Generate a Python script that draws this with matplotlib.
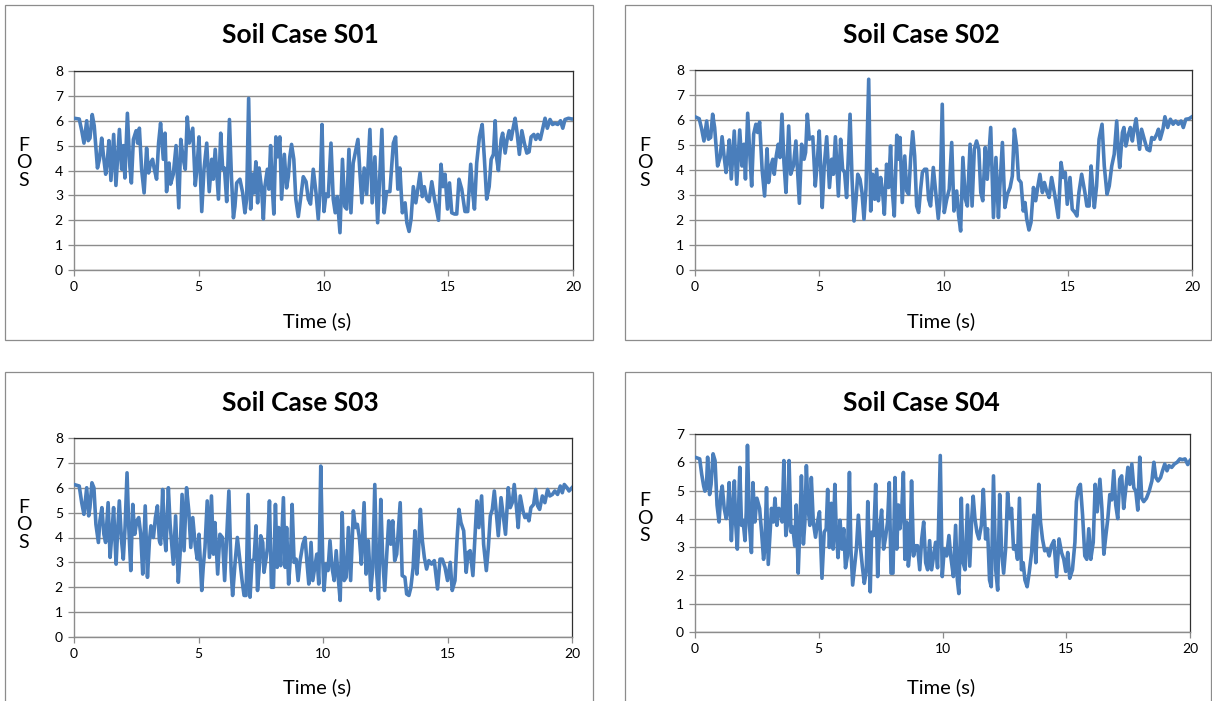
import matplotlib
matplotlib.use("Agg")
import matplotlib.pyplot as plt
from matplotlib.patches import Rectangle

W, H = 1212, 701
LINE = "#4a7ebb"
GRID = "#8c8c8c"
BOX = "#8c8c8c"

plt.rcParams["font.family"] = ["Lato", "DejaVu Sans"]

titles = ["Soil Case S01", "Soil Case S02", "Soil Case S03", "Soil Case S04"]
x_ticks = [0, 5, 10, 15, 20]
y_tops = [8, 8, 8, 7]

# values, FOS against time (s)
time_s01 = [
    0.0, 0.21, 0.31, 0.40, 0.51, 0.57, 0.64, 0.73, 0.81, 0.94,
    1.02, 1.11, 1.18, 1.27, 1.34, 1.40, 1.48, 1.59, 1.68, 1.82,
    1.91, 1.98, 2.04, 2.14, 2.24, 2.30, 2.38, 2.49, 2.55, 2.62,
    2.71, 2.81, 2.91, 2.99, 3.07, 3.15, 3.21, 3.31, 3.39, 3.47,
    3.58, 3.65, 3.71, 3.81, 3.87, 3.98, 4.09, 4.20, 4.28, 4.38,
    4.46, 4.54, 4.62, 4.76, 4.86, 4.93, 5.01, 5.12, 5.21, 5.32,
    5.42, 5.52, 5.58, 5.66, 5.79, 5.88, 5.96, 6.03, 6.12, 6.23,
    6.31, 6.39, 6.45, 6.52,
    6.65, 6.76, 6.85, 6.92, 7.00, 7.08, 7.16, 7.21, 7.29, 7.36,
    7.42, 7.52, 7.59, 7.65, 7.75, 7.81, 7.88, 7.95, 8.01, 8.09,
    8.16, 8.25, 8.32, 8.43, 8.52, 8.59, 8.65, 8.72, 8.81, 8.89,
    8.99, 9.08, 9.19, 9.30, 9.39, 9.48, 9.59, 9.70, 9.79, 9.86,
    9.94, 10.02, 10.10, 10.19, 10.30, 10.39, 10.47, 10.55, 10.66, 10.76,
    10.85, 10.93, 11.02, 11.10, 11.19, 11.27, 11.38, 11.46, 11.54, 11.63,
    11.73, 11.86, 11.95, 12.06, 12.17, 12.26, 12.34, 12.43, 12.53, 12.66,
    12.80, 12.89, 12.98, 13.06, 13.16,
    13.27, 13.34, 13.43, 13.51, 13.60, 13.70, 13.78, 13.87, 13.96, 14.04,
    14.14, 14.23, 14.34, 14.45, 14.61, 14.71, 14.79, 14.87, 14.97, 15.05,
    15.14, 15.25, 15.34, 15.43, 15.54, 15.67, 15.78, 15.90, 15.98, 16.05,
    16.14, 16.25, 16.36, 16.45, 16.54, 16.64, 16.72, 16.81, 16.88, 16.94,
    17.01, 17.12, 17.18, 17.28, 17.36, 17.44, 17.52, 17.60, 17.68, 17.76,
    17.85, 17.95, 18.05, 18.15, 18.24, 18.32, 18.43, 18.51, 18.59, 18.69,
    18.80, 18.88, 18.97, 19.08, 19.18, 19.28, 19.39, 19.50, 19.59, 19.68,
    19.82, 19.95, 20.0,
]
fos_s01 = [
    6.1, 6.07, 5.6, 5.1, 6.0, 5.2, 5.3, 6.25, 5.8, 4.1,
    4.45, 5.3, 4.6, 3.85, 4.45, 5.2, 3.6, 5.45, 3.4, 5.65,
    4.05, 5.0, 3.7, 6.3, 4.15, 3.5, 5.25, 5.6, 5.1, 5.7,
    4.05, 3.1, 4.9, 3.9, 4.3, 4.45, 4.1, 3.65, 5.1, 5.9,
    4.45, 5.5, 3.15, 4.3, 3.45, 3.85, 5.0, 2.5, 5.25, 4.45,
    4.05, 6.15, 5.1, 5.7, 3.4, 4.1, 5.35, 2.35, 4.05, 5.1,
    3.15, 4.45, 3.65, 4.85, 2.85, 5.5, 4.05, 4.1, 2.75, 6.05,
    3.75, 2.1, 2.55, 3.5,
    3.65, 3.1, 2.3, 2.85, 6.9, 2.45, 3.85, 3.1, 4.35, 2.7,
    4.1, 3.25, 2.05, 3.35, 4.05, 3.25, 5.0, 3.25, 2.25, 5.35,
    4.55, 5.35, 2.85, 4.65, 3.3, 3.75, 4.55, 5.05, 4.45, 2.85,
    2.15, 2.85, 3.75, 3.55, 2.85, 2.65, 4.05, 3.1, 2.05, 3.1,
    5.85, 2.35, 3.05, 2.95, 5.1, 2.85, 2.3, 2.95, 1.5, 4.45,
    2.55, 2.45, 4.85, 2.3, 4.3, 4.7, 5.25, 3.9, 2.7, 4.1,
    3.05, 5.65, 2.7, 4.55, 1.9, 3.9, 5.65, 2.3, 3.15, 3.15,
    5.1, 5.35, 3.25, 4.1, 2.3,
    2.7, 1.9, 1.55, 2.05, 3.35, 2.7, 3.25, 3.9, 2.95, 3.35,
    2.85, 2.75, 3.55, 2.85, 2.0, 4.25, 3.35, 3.85, 2.45, 3.5,
    2.3, 2.25, 2.25, 3.65, 3.25, 2.35, 2.35, 4.25, 3.1, 2.45,
    4.3, 5.35, 5.85, 4.45, 2.85, 3.35, 4.45, 4.65, 6.0, 4.5,
    4.0, 5.25, 5.5, 4.7, 5.25, 5.6, 5.25, 5.7, 6.1, 5.5,
    4.65, 5.6, 5.1, 4.7, 4.75, 5.35, 5.45, 5.25, 5.45, 5.25,
    5.75, 6.1, 5.7, 6.05, 5.85, 5.9, 5.85, 6.0, 5.7, 6.05,
    6.1, 6.07, 6.07,
]

time_s02 = [
    0.0, 0.17, 0.27, 0.36, 0.47, 0.54, 0.63, 0.71, 0.79, 0.91,
    1.01, 1.09, 1.17, 1.25, 1.31, 1.38, 1.46, 1.58, 1.68, 1.80,
    1.89, 1.97, 2.03, 2.12, 2.21, 2.28, 2.36, 2.45, 2.52, 2.60,
    2.70, 2.80, 2.90, 2.96, 3.04, 3.13, 3.19, 3.27, 3.35, 3.42,
    3.50, 3.58, 3.66, 3.77, 3.85, 3.96, 4.06, 4.20, 4.29, 4.39,
    4.45, 4.52, 4.60, 4.74, 4.84, 4.92, 5.00, 5.12, 5.20, 5.30,
    5.41, 5.50, 5.57, 5.65, 5.77, 5.86, 5.94, 6.02, 6.10, 6.24,
    6.32, 6.40, 6.48, 6.55,
    6.64, 6.72, 6.80, 6.88, 6.99, 7.07, 7.15, 7.23, 7.31, 7.38,
    7.47, 7.55, 7.62, 7.71, 7.79, 7.87, 7.94, 8.02, 8.12, 8.18,
    8.25, 8.34, 8.44, 8.52, 8.60, 8.68, 8.76, 8.84, 8.92, 9.00,
    9.08, 9.15, 9.24, 9.32, 9.40, 9.48, 9.59, 9.70, 9.79, 9.86,
    9.95, 10.03, 10.13, 10.23, 10.33, 10.42, 10.53, 10.61, 10.69, 10.78,
    10.88, 10.96, 11.07, 11.15, 11.24, 11.33, 11.42, 11.50, 11.58, 11.68,
    11.76, 11.90, 12.01, 12.11, 12.21, 12.27, 12.37, 12.47, 12.57, 12.68,
    12.77, 12.85, 12.94, 13.02, 13.12, 13.21,
    13.28, 13.35, 13.44, 13.52, 13.62, 13.71, 13.79, 13.88, 13.98, 14.06,
    14.15, 14.25, 14.35, 14.46, 14.62, 14.73, 14.82, 14.90, 14.98, 15.09,
    15.18, 15.29, 15.37, 15.45, 15.56, 15.69, 15.77, 15.86, 15.94, 16.02,
    16.07, 16.16, 16.26, 16.38, 16.47, 16.58, 16.67, 16.77, 16.87, 16.97,
    17.04, 17.09, 17.20, 17.26, 17.34, 17.44, 17.52, 17.60, 17.67, 17.75,
    17.81, 17.89, 17.97, 18.08, 18.19, 18.30, 18.38, 18.48, 18.58, 18.65,
    18.72, 18.83, 18.91, 19.02, 19.13, 19.24, 19.34, 19.45, 19.56, 19.65,
    19.75, 19.88, 20.0,
]
fos_s02 = [
    6.13, 6.05, 5.63, 5.16, 5.96, 5.23, 5.3, 6.23, 5.7, 4.16,
    4.5, 5.33, 4.56, 3.9, 4.43, 5.2, 3.64, 5.56, 3.43, 5.6,
    4.16, 5.03, 3.64, 6.27, 4.56, 3.36, 5.43, 5.83, 5.5, 5.92,
    4.03, 2.96, 4.85, 3.5, 4.1, 4.43, 3.83, 4.56, 5.03, 4.5,
    6.23, 4.3, 3.1, 5.76, 3.83, 4.16, 5.16, 2.67, 5.03, 4.43,
    4.7, 6.23, 5.23, 5.33, 3.36, 4.3, 5.56, 2.5, 4.16, 5.33,
    3.3, 4.43, 3.83, 5.33, 2.96, 5.23, 4.03, 3.9, 2.9, 6.23,
    3.64, 1.96, 2.83, 3.83,
    3.63, 3.1, 2.03, 3.23, 7.63, 2.36, 3.83, 2.83, 4.03, 2.77,
    3.7, 3.1, 2.23, 4.23, 3.3, 4.96, 3.16, 2.16, 5.39, 4.43,
    5.3, 2.7, 4.56, 3.16, 3.03, 4.5, 5.53, 4.56, 2.56, 2.3,
    3.23, 3.9, 4.03, 4.03, 2.83, 2.56, 4.1, 2.96, 2.06, 2.83,
    6.63, 2.3, 2.83, 3.23, 5.1, 2.36, 3.16, 2.16, 1.56, 4.5,
    2.83, 2.56, 5.03, 2.56, 4.83, 5.16, 4.83, 3.1, 2.77, 4.9,
    3.63, 5.7, 2.1, 4.5, 2.1, 3.36, 5.1, 2.5, 3.03, 3.3,
    3.76, 5.63, 4.96, 3.63, 3.5, 2.36,
    2.7, 2.03, 1.6, 1.9, 3.3, 2.77, 3.3, 3.83, 3.1, 3.5,
    3.16, 2.9, 3.7, 3.1, 2.1, 4.3, 3.7, 3.9, 2.63, 3.7,
    2.43, 2.3, 2.16, 3.1, 3.83, 3.1, 2.56, 2.56, 4.16, 3.1,
    2.5, 3.36, 5.23, 5.83, 4.16, 3.03, 3.36, 4.16, 4.63, 5.96,
    4.7, 4.1, 5.5, 5.7, 4.96, 5.43, 5.7, 5.16, 5.63, 6.05,
    5.5, 4.83, 5.63, 5.23, 4.83, 4.77, 5.3, 5.23, 5.43, 5.63,
    5.23, 5.63, 6.13, 5.7, 6.03, 5.83, 5.96, 5.83, 5.96, 5.7,
    6.03, 6.05, 6.13,
]

time_s03 = [
    0.0, 0.21, 0.31, 0.40, 0.51, 0.59, 0.64, 0.72, 0.80, 0.88,
    0.98, 1.04, 1.12, 1.20, 1.27, 1.37, 1.45, 1.51, 1.59, 1.69,
    1.74, 1.82, 1.91, 1.98, 2.05, 2.13, 2.20, 2.28, 2.36, 2.44,
    2.52, 2.60, 2.68, 2.76, 2.86, 2.95, 3.03, 3.09, 3.19, 3.27,
    3.35, 3.43, 3.48, 3.56, 3.63, 3.69, 3.79, 3.86, 3.92, 3.99,
    4.08, 4.19, 4.26, 4.34, 4.42, 4.52, 4.61, 4.69, 4.77, 4.87,
    4.95, 5.02, 5.13, 5.19, 5.26, 5.35, 5.44, 5.52, 5.60, 5.66,
    5.77, 5.86, 5.96, 6.05, 6.13, 6.22, 6.31, 6.37, 6.47, 6.56,
    6.67, 6.75, 6.83, 6.91, 6.99, 7.07, 7.15, 7.23, 7.31, 7.37,
    7.45, 7.50, 7.58, 7.63, 7.71, 7.77, 7.85, 7.93, 8.01, 8.09,
    8.16, 8.22, 8.30, 8.41, 8.48, 8.54, 8.62, 8.70, 8.76, 8.84,
    8.92, 9.00, 9.08, 9.19, 9.28, 9.35, 9.43, 9.52, 9.59, 9.67,
    9.75, 9.83, 9.91, 9.99, 10.04, 10.12, 10.20, 10.28, 10.36, 10.45,
    10.53, 10.61, 10.69, 10.77, 10.85, 10.93, 11.02, 11.11, 11.22, 11.30,
    11.38, 11.46, 11.54, 11.65, 11.73, 11.82, 11.92, 12.00, 12.08, 12.16,
    12.23, 12.32, 12.40, 12.48, 12.56, 12.64, 12.72, 12.80, 12.88, 12.96,
    13.10, 13.18,
    13.29, 13.36, 13.45, 13.53, 13.62, 13.69, 13.77, 13.83, 13.91, 13.99,
    14.07, 14.16, 14.25, 14.36, 14.47, 14.60, 14.70, 14.79, 14.90, 15.00,
    15.11, 15.19, 15.30, 15.38, 15.46, 15.54, 15.65, 15.75, 15.83, 15.91,
    16.02, 16.10, 16.18, 16.26, 16.37, 16.45, 16.56, 16.64, 16.72, 16.80,
    16.88, 16.96, 17.04, 17.15, 17.24, 17.33, 17.44, 17.52, 17.60, 17.68,
    17.77, 17.84, 17.92, 18.03, 18.11, 18.19, 18.27, 18.35, 18.46, 18.54,
    18.62, 18.70, 18.81, 18.91, 19.02, 19.11, 19.21, 19.31, 19.42, 19.53,
    19.61, 19.69, 19.80, 19.88, 20.0,
]
fos_s03 = [
    6.13, 6.07, 5.4, 4.93, 6.0, 4.87, 5.2, 6.2, 6.0, 4.53,
    3.8, 4.67, 5.2, 4.13, 3.8, 5.4, 3.2, 4.0, 5.2, 2.93,
    4.0, 5.47, 3.87, 3.13, 4.4, 6.6, 4.4, 2.67, 5.33, 4.13,
    4.67, 4.8, 4.13, 2.53, 5.27, 2.4, 3.87, 4.47, 4.0, 4.8,
    5.27, 3.87, 3.73, 5.93, 4.13, 3.47, 6.0, 4.53, 3.8, 2.93,
    4.87, 2.2, 3.33, 5.73, 3.47, 6.0, 5.07, 3.6, 4.8, 3.67,
    3.13, 4.13, 1.87, 2.8, 3.6, 5.47, 3.2, 5.67, 3.33, 4.6,
    2.53, 4.13, 4.0, 2.27, 4.0, 5.87, 2.67, 1.67, 3.0, 4.0,
    3.0, 2.27, 1.67, 1.67, 5.73, 1.6, 3.07, 3.13, 4.47, 1.87,
    2.93, 4.07, 3.8, 2.6, 3.13, 3.6, 5.47, 2.0, 2.0, 5.33,
    2.8, 4.4, 2.87, 5.6, 2.8, 4.4, 2.13, 3.33, 5.33, 3.0,
    3.13, 2.27, 3.07, 3.73, 4.0, 3.07, 2.13, 3.8, 2.27, 2.8,
    3.33, 2.13, 6.87, 3.07, 1.87, 2.93, 2.67, 3.87, 2.8, 2.27,
    3.47, 2.4, 1.47, 5.0, 2.27, 2.4, 4.4, 2.27, 5.07, 4.4,
    4.53, 4.0, 2.93, 5.4, 2.53, 3.87, 1.87, 2.8, 6.13, 2.53,
    1.53, 5.53, 3.07, 1.87, 3.33, 4.67, 3.73, 4.67, 3.07, 3.33,
    5.4, 2.47,
    2.4, 1.73, 1.67, 2.0, 2.8, 4.27, 2.53, 3.33, 5.13, 3.87,
    3.2, 2.73, 3.07, 2.93, 3.07, 1.93, 3.13, 3.13, 2.8, 2.27,
    3.0, 1.87, 2.27, 3.87, 5.13, 4.6, 4.27, 2.6, 3.4, 3.47,
    2.47, 4.0, 5.47, 4.4, 5.67, 3.73, 2.67, 3.6, 4.87, 5.13,
    5.87, 5.0, 4.07, 5.6, 4.87, 4.13, 6.0, 5.2, 5.4, 6.13,
    5.2, 4.4, 5.67, 5.07, 4.8, 4.93, 4.67, 5.2, 5.33, 5.93,
    5.27, 5.13, 5.67, 5.4, 5.93, 5.67, 5.73, 5.87, 5.73, 6.07,
    5.8, 6.13, 6.0, 5.87, 6.0,
]

time_s04 = [
    0.0, 0.19, 0.27, 0.35, 0.40, 0.46, 0.51, 0.59, 0.65, 0.73,
    0.81, 0.89, 0.97, 1.05, 1.10, 1.18, 1.26, 1.32, 1.38, 1.47,
    1.53, 1.59, 1.64, 1.71, 1.75, 1.81, 1.88, 1.94, 2.02, 2.07,
    2.12, 2.20, 2.28, 2.34, 2.42, 2.50, 2.61, 2.69, 2.77, 2.82,
    2.89, 2.96, 3.04, 3.09, 3.17, 3.23, 3.31, 3.39, 3.47, 3.52,
    3.59, 3.67, 3.75, 3.80, 3.88, 3.95, 4.03, 4.09, 4.17, 4.23,
    4.30, 4.38, 4.44, 4.50, 4.57, 4.64, 4.70, 4.78, 4.87, 4.95,
    5.03, 5.13, 5.22, 5.30, 5.36, 5.43, 5.51, 5.58, 5.65, 5.71,
    5.78, 5.86, 5.94, 6.01, 6.08, 6.16, 6.24, 6.30, 6.37, 6.45,
    6.52,
    6.60, 6.68, 6.76, 6.84, 6.92, 6.98, 7.03, 7.08, 7.14, 7.22,
    7.30, 7.38, 7.46, 7.54, 7.62, 7.70, 7.78, 7.85, 7.92, 8.00,
    8.08, 8.15, 8.22, 8.28, 8.35, 8.42, 8.48, 8.55, 8.62, 8.69,
    8.75, 8.83, 8.91, 8.99, 9.08, 9.16, 9.24, 9.32, 9.40, 9.48,
    9.56, 9.64, 9.72, 9.80, 9.91, 9.99, 10.07, 10.17, 10.26, 10.34,
    10.44, 10.53, 10.60, 10.66, 10.76, 10.83, 10.91, 11.01, 11.10, 11.18,
    11.24, 11.31, 11.39, 11.47, 11.57, 11.65, 11.74, 11.82, 11.90, 11.97,
    12.06, 12.15, 12.23, 12.31, 12.39, 12.47, 12.55, 12.63, 12.71, 12.79,
    12.87, 12.95, 13.03, 13.11, 13.19,
    13.26, 13.33, 13.42, 13.50, 13.60, 13.69, 13.77, 13.83, 13.89, 13.96,
    14.04, 14.13, 14.23, 14.31, 14.40, 14.50, 14.61, 14.71, 14.81, 14.90,
    14.98, 15.06, 15.14, 15.25, 15.35, 15.41, 15.49, 15.57, 15.66, 15.75,
    15.83, 15.91, 15.99, 16.09, 16.17, 16.25, 16.36, 16.44, 16.52, 16.60,
    16.68, 16.76, 16.84, 16.92, 17.00, 17.08, 17.16, 17.24, 17.32, 17.41,
    17.49, 17.57, 17.65, 17.73, 17.81, 17.89, 17.97, 18.05, 18.13, 18.24,
    18.35, 18.46, 18.54, 18.62, 18.71, 18.81, 18.89, 18.98, 19.07, 19.15,
    19.26, 19.37, 19.48, 19.59, 19.69, 19.80, 19.91, 20.0,
]
fos_s04 = [
    6.18, 6.12, 5.58, 5.16, 4.98, 5.1, 6.18, 4.86, 5.22, 6.3,
    6.06, 4.49, 3.89, 4.92, 5.16, 4.37, 4.01, 4.31, 5.28, 3.23,
    4.37, 5.34, 3.89, 2.93, 4.13, 5.82, 3.77, 3.95, 3.23, 4.25,
    6.6, 3.77, 2.81, 5.28, 3.89, 4.73, 4.37, 3.53, 2.57, 2.93,
    5.1, 2.39, 3.65, 4.37, 3.89, 4.73, 3.77, 4.37, 4.25, 3.89,
    6.06, 3.41, 3.89, 6.06, 3.53, 3.71, 3.05, 4.49, 2.08, 3.53,
    5.52, 3.11, 3.89, 5.88, 4.37, 3.77, 5.46, 3.89, 3.35, 3.89,
    4.25, 1.9, 3.53, 3.65, 5.04, 2.99, 4.55, 2.93, 5.22, 3.53,
    2.63, 3.95, 2.93, 3.65, 2.27, 2.69, 5.64, 2.93, 1.66, 2.33,
    2.93,
    4.13, 3.05, 2.33, 1.72, 2.14, 4.61, 3.41, 1.42, 3.53, 3.41,
    5.22, 1.96, 3.65, 4.31, 2.93, 3.35, 3.89, 5.28, 2.08, 2.08,
    5.46, 2.93, 4.49, 3.65, 4.25, 5.64, 2.57, 3.89, 2.33, 2.93,
    5.34, 2.69, 3.05, 3.05, 2.2, 3.29, 3.89, 2.45, 2.2, 3.23,
    2.2, 2.69, 3.17, 2.27, 6.24, 1.96, 2.93, 2.69, 3.41, 2.63,
    1.96, 3.77, 1.84, 1.36, 4.73, 2.45, 2.2, 4.49, 2.33, 4.01,
    4.8, 4.01, 3.53, 3.29, 3.77, 5.04, 3.29, 3.65, 1.84, 1.6,
    5.52, 2.2, 1.48, 4.86, 2.81, 2.08, 2.93, 4.92, 4.01, 4.37,
    2.93, 3.05, 2.57, 4.73, 2.2,
    2.45, 1.84, 1.6, 2.08, 2.81, 4.13, 2.45, 3.89, 5.22, 3.89,
    3.29, 2.87, 2.93, 2.69, 3.05, 3.23, 1.96, 3.29, 2.81, 2.57,
    2.14, 2.81, 1.9, 2.2, 3.17, 4.61, 5.1, 5.22, 4.13, 2.69,
    2.57, 3.65, 2.57, 3.17, 5.22, 4.25, 5.4, 4.37, 2.75, 3.41,
    4.01, 4.86, 4.67, 5.7, 4.49, 4.01, 5.4, 5.52, 4.37, 5.1,
    5.82, 5.22, 5.94, 5.1, 4.98, 4.31, 6.18, 4.73, 4.61, 4.73,
    4.98, 5.34, 6.0, 5.46, 5.34, 5.46, 5.7, 5.94, 5.7, 5.88,
    5.82, 5.94, 6.0, 6.12, 6.09, 6.12, 5.92, 6.06,
]

series = [(time_s01, fos_s01), (time_s02, fos_s02),
          (time_s03, fos_s03), (time_s04, fos_s04)]


def fig_rect(x0, y0, x1, y1):
    """pixel box (top-left origin) -> figure fraction [l, b, w, h]"""
    return [x0 / W, 1 - y1 / H, (x1 - x0) / W, (y1 - y0) / H]


# layout in pixels: plot area, outer chart box, title, FOS label, x label
layout = [
    dict(ax=(74, 71, 573, 270), box=(5, 5, 593, 340), title=(300, 35), fos=(24, 163), xl=(317, 321)),
    dict(ax=(695, 70, 1192, 270), box=(625, 5, 1211, 340), title=(921, 35), fos=(645, 163), xl=(941, 321)),
    dict(ax=(74, 438, 572, 637), box=(5, 372, 593, 730), title=(300, 403), fos=(24, 525), xl=(317, 687)),
    dict(ax=(695, 434, 1190, 632), box=(625, 372, 1211, 730), title=(921, 403), fos=(645, 518), xl=(941, 687)),
]

fig = plt.figure(figsize=(W / 100, H / 100), dpi=100)
fig.patch.set_facecolor("white")

for (t, fos), title, ytop, lay in zip(series, titles, y_tops, layout):
    bx0, by0, bx1, by1 = lay["box"]
    l, b, w, h = fig_rect(bx0, by0, bx1, by1)
    fig.patches.append(Rectangle((l, b), w, h, transform=fig.transFigure,
                                 fill=False, edgecolor=BOX, lw=0.9, zorder=0))

    ax = fig.add_axes(fig_rect(*lay["ax"]))
    ax.plot(t, fos, color=LINE, lw=2.6, solid_joinstyle="round", zorder=3)
    ax.set_xlim(0, 20)
    ax.set_ylim(0, ytop)
    ax.set_xticks(x_ticks)
    ax.set_yticks(range(ytop + 1))
    ax.grid(axis="y", color=GRID, lw=1.0)
    ax.set_axisbelow(True)
    for side in ("left", "bottom"):
        ax.spines[side].set_color(GRID)
        ax.spines[side].set_linewidth(1.0)
    for side in ("top", "right"):
        ax.spines[side].set_color("#303030")
        ax.spines[side].set_linewidth(0.9)
    ax.tick_params(direction="out", length=4, width=0.9, color=GRID,
                   labelsize=10, labelcolor="black", pad=4)

    tx, ty = lay["title"]
    fig.text(tx / W, 1 - ty / H, title, ha="center", va="center",
             fontsize=19, fontweight="bold")
    fx, fy = lay["fos"]
    fig.text(fx / W, 1 - fy / H, "F\nO\nS", ha="center", va="center",
             fontsize=14, linespacing=1.05)
    lx, ly = lay["xl"]
    fig.text(lx / W, 1 - ly / H, "Time (s)", ha="center", va="center",
             fontsize=14.5)

fig.savefig("out.png", dpi=100)
